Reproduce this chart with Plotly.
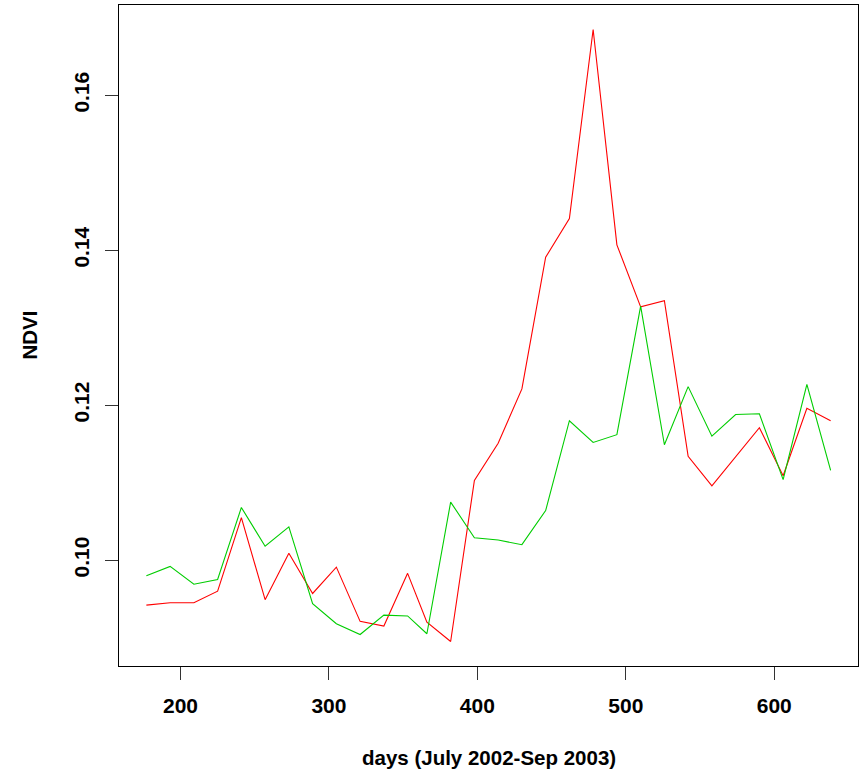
import plotly.graph_objects as go

# Day numbers (16-day composites, days counted from Jan 1 2002)
days = [177, 193, 209, 225, 241, 257, 273, 289, 305, 321, 337, 353,
        366, 382, 398, 414, 430, 446, 462, 478, 494, 510, 526, 542,
        558, 574, 590, 606, 622, 638]

ndvi_red = [0.0942, 0.0945, 0.0945, 0.0960, 0.1055, 0.0949, 0.1009, 0.0957,
            0.0991, 0.0921, 0.0915, 0.0983, 0.0920, 0.0895, 0.1103, 0.1151,
            0.1221, 0.1391, 0.1441, 0.1685, 0.1407, 0.1327, 0.1335, 0.1134,
            0.1096, 0.1133, 0.1171, 0.1109, 0.1196, 0.1180]

ndvi_green = [0.0980, 0.0992, 0.0969, 0.0975, 0.1068, 0.1018, 0.1043, 0.0944,
              0.0918, 0.0904, 0.0929, 0.0928, 0.0905, 0.1075, 0.1029, 0.1026,
              0.1020, 0.1064, 0.1180, 0.1152, 0.1162, 0.1328, 0.1149, 0.1224,
              0.1160, 0.1188, 0.1189, 0.1104, 0.1227, 0.1116]

x_ticks = [200, 300, 400, 500, 600]
y_ticks = [0.10, 0.12, 0.14, 0.16]
y_tick_labels = ["0.10", "0.12", "0.14", "0.16"]

x_title = "days (July 2002-Sep 2003)"
y_title = "NDVI"

FONT = "Liberation Sans, Arial, Helvetica, sans-serif"

fig = go.Figure()
fig.add_trace(go.Scatter(x=days, y=ndvi_red, mode="lines",
                         line=dict(color="#FF0000", width=1.1), showlegend=False))
fig.add_trace(go.Scatter(x=days, y=ndvi_green, mode="lines",
                         line=dict(color="#00CD00", width=1.1), showlegend=False))

xr = [min(days), max(days)]
xpad = (xr[1] - xr[0]) * 0.04
yall = ndvi_red + ndvi_green
ylo, yhi = min(yall), max(yall)
ypad = (yhi - ylo) * 0.04

axis_common = dict(
    showline=True, mirror=True, linecolor="black", linewidth=1,
    ticks="outside", ticklen=13, tickwidth=1, tickcolor="#333333",
    showgrid=False, zeroline=False,
    tickfont=dict(family=FONT, size=21, color="black", weight="bold"),
)

fig.update_layout(
    width=865, height=770,
    margin=dict(l=119, r=7, t=5, b=104),
    paper_bgcolor="white", plot_bgcolor="white",
    xaxis=dict(range=[xr[0] - xpad, xr[1] + xpad], tickvals=x_ticks,
               ticklabelstandoff=8, **axis_common),
    yaxis=dict(range=[ylo - ypad, yhi + ypad], tickvals=y_ticks,
               ticktext=y_tick_labels, tickangle=-90,
               ticklabelstandoff=8, **axis_common),
    annotations=[
        dict(text=x_title, xref="paper", yref="paper", x=0.5, y=0,
             xanchor="center", yanchor="middle", yshift=-91, showarrow=False,
             font=dict(family=FONT, size=20.5, color="black", weight="bold")),
        dict(text=y_title, xref="paper", yref="paper", x=0, y=0.5,
             xanchor="center", yanchor="middle", xshift=-90, textangle=-90,
             showarrow=False,
             font=dict(family=FONT, size=20.5, color="black", weight="bold")),
    ],
)

fig.write_html("out.html")
